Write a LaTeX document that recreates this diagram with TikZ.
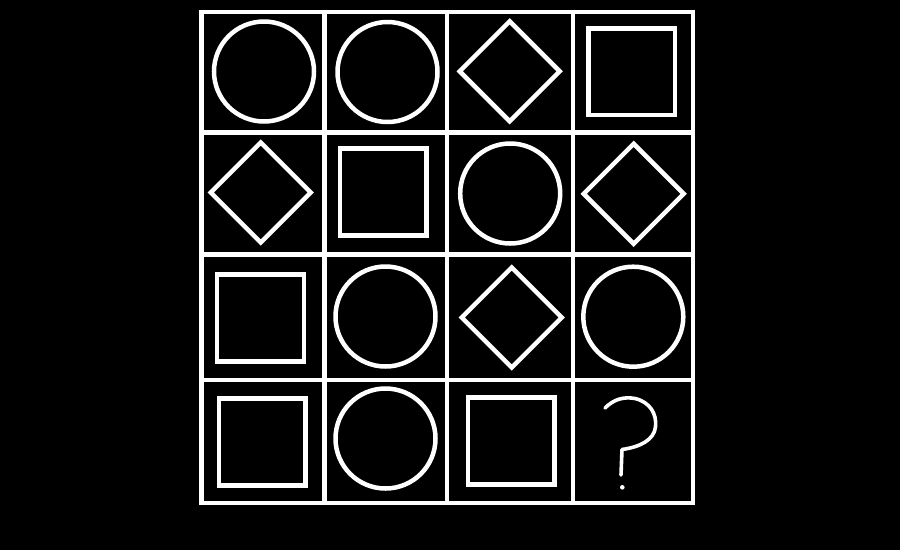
\documentclass[tikz,border=0pt]{standalone}
\begin{document}
\begin{tikzpicture}[x=1pt,y=-1pt,
  gridline/.style={draw=white,line width=4.6pt},
  shapeline/.style={draw=white,line width=4.5pt},
  qline/.style={draw=white,line width=3.6pt,line cap=round,line join=round}]
\fill[black] (0,0) rectangle (900,550);
\useasboundingbox (0,0) rectangle (900,550);
% grid
\foreach \x in {201.5,324.5,447,573,693} \draw[gridline] (\x,9.7) -- (\x,505.3);
\foreach \y in {12,132.5,254.5,380,503} \draw[gridline] (199.2,\y) -- (695.3,\y);
% row 1
\draw[shapeline] (264,71.5) circle (50);
\draw[shapeline] (387.5,72) circle (50);
\draw[shapeline] (509.7,21.3) -- (559.7,71.3) -- (509.7,121.3) -- (459.7,71.3) -- cycle;
\draw[shapeline] (588.4,28.5) rectangle (675,115.1);
% row 2
\draw[shapeline] (260.8,142.5) -- (310.8,192.5) -- (260.8,242.5) -- (210.8,192.5) -- cycle;
\draw[shapeline] (340,148.7) rectangle (426.6,235.3);
\draw[shapeline] (510.2,193.5) circle (50);
\draw[shapeline] (633.7,143.8) -- (683.7,193.8) -- (633.7,243.8) -- (583.7,193.8) -- cycle;
% row 3
\draw[shapeline] (217.2,274.7) rectangle (303.8,361.3);
\draw[shapeline] (385.5,316.5) circle (50);
\draw[shapeline] (511.7,267.5) -- (561.7,317.5) -- (511.7,367.5) -- (461.7,317.5) -- cycle;
\draw[shapeline] (633.3,316.7) circle (50);
% row 4
\draw[shapeline] (218.9,398.7) rectangle (305.5,485.3);
\draw[shapeline] (385.5,438.5) circle (50);
\draw[shapeline] (468,397.7) rectangle (554.6,484.3);
% question mark
\draw[qline] (605,408) .. controls (614,399) and (624,396.5) .. (635,398.5)
  .. controls (650,402) and (657,414) .. (655.5,427)
  .. controls (654,440) and (640,447) .. (622,449.5)
  -- (621,475);
\fill[white] (622.3,487.3) circle (2.3);
\end{tikzpicture}
\end{document}
